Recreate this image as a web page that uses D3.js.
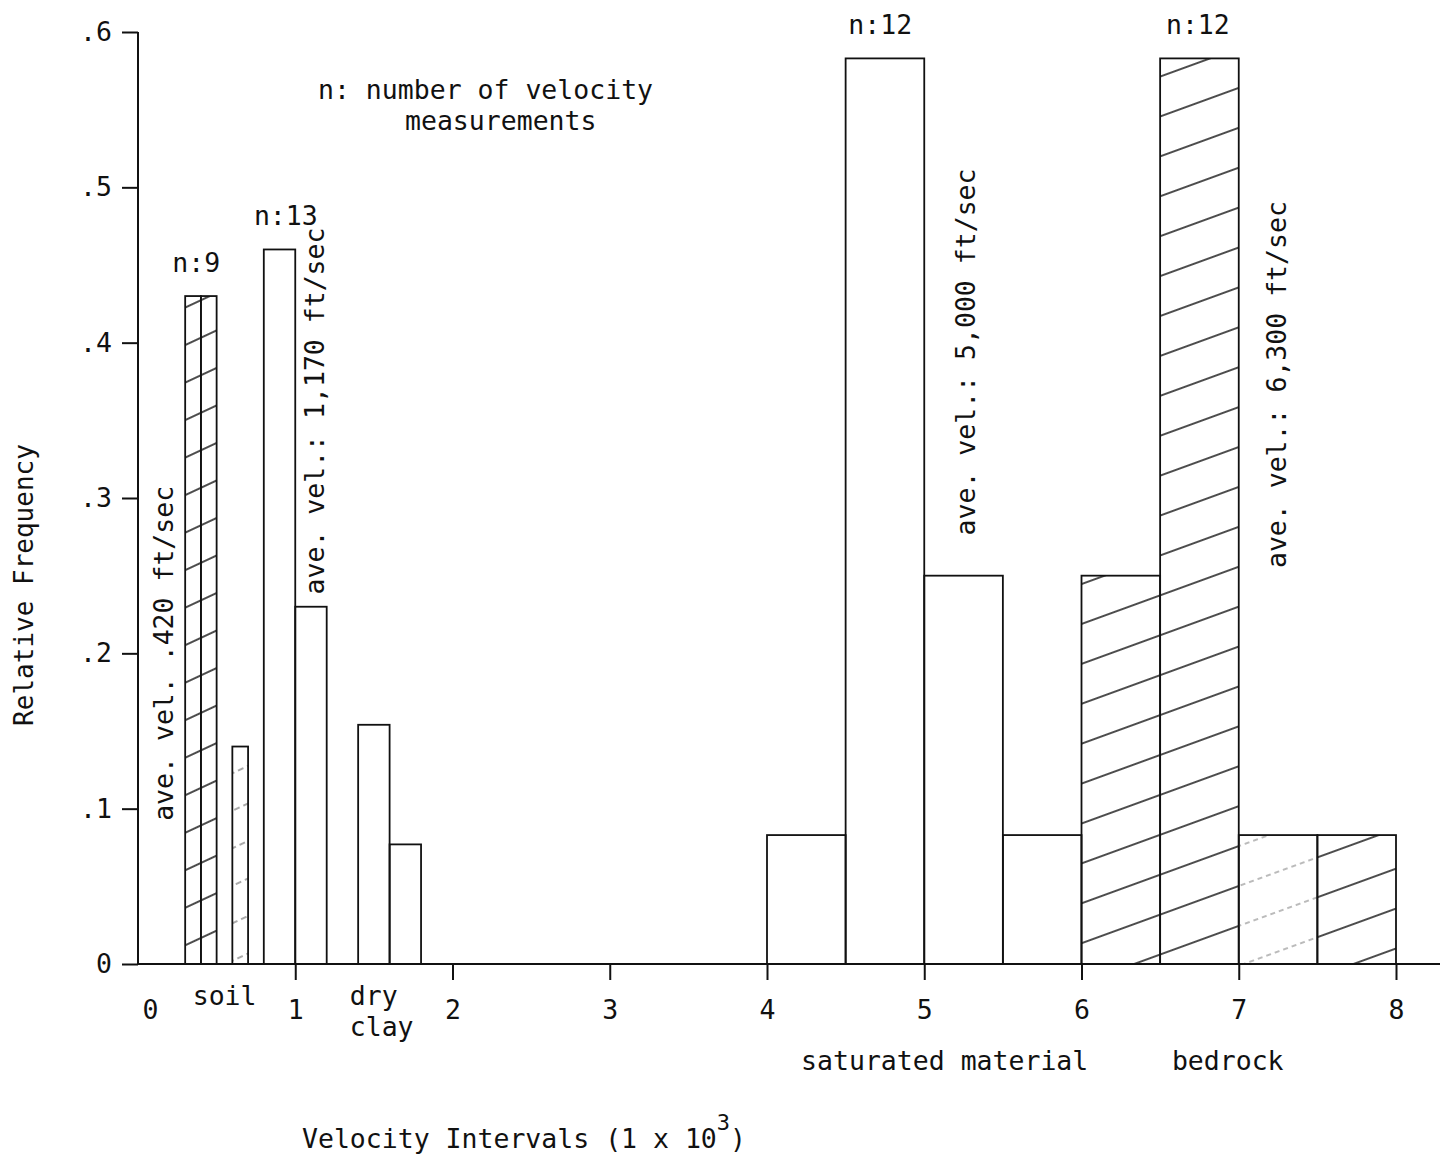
<!DOCTYPE html>
<html>
<head>
<meta charset="utf-8">
<script src="https://cdn.jsdelivr.net/npm/d3@7"></script>
<style>
  body { margin: 0; background: #fff; }
  svg text { font-family: "DejaVu Sans Mono", monospace; font-size: 26.5px; fill: #111; }
</style>
</head>
<body>
<div id="chart"></div>
<script>
'use strict';

// velocity bins (1 x 10^3 ft/sec) and relative frequency
var binLo = [0.3, 0.4, 0.6, 0.8, 1.0, 1.4, 1.6, 4.0, 4.5, 5.0, 5.5, 6.0, 6.5, 7.0, 7.5];
var binHi = [0.4, 0.5, 0.7, 1.0, 1.2, 1.6, 1.8, 4.5, 5.0, 5.5, 6.0, 6.5, 7.0, 7.5, 8.0];
var freq  = [0.43, 0.43, 0.14, 0.46, 0.23, 0.154, 0.077, 0.083, 0.583, 0.25, 0.083, 0.25, 0.583, 0.083, 0.083];
var hatch = ['soil', 'soil', 'soilLight', '', '', '', '', '', '', '', '', 'rock', 'rock', 'rockLight', 'rock'];

var xTicks = [0, 1, 2, 3, 4, 5, 6, 7, 8];
var yTicks = [0, 0.1, 0.2, 0.3, 0.4, 0.5, 0.6];
var yTickLabels = ['0', '.1', '.2', '.3', '.4', '.5', '.6'];

// n labels above groups: [x position in velocity units, value above, text]
var nLabels = [
  {v: 0.37, f: 0.43, t: 'n:9'},
  {v: 0.94, f: 0.46, t: 'n:13'},
  {v: 4.72, f: 0.583, t: 'n:12'},
  {v: 6.74, f: 0.583, t: 'n:12'}
];
// rotated average velocity notes
var aveLabels = [
  {v: 0.16, f: 0.2, t: 'ave. vel. .420 ft/sec'},
  {v: 1.12, f: 0.356, t: 'ave. vel.: 1,170 ft/sec'},
  {v: 5.26, f: 0.394, t: 'ave. vel.: 5,000 ft/sec'},
  {v: 7.24, f: 0.373, t: 'ave. vel.: 6,300 ft/sec'}
];
var groupNames = [
  {v: 0.5, lines: ['soil']},
  {v: 1.55, lines: ['dry', 'clay']}
];
var groupNames2 = [
  {v: 5.13, t: 'saturated material'},
  {v: 6.93, t: 'bedrock'}
];

var width = 1452, height = 1162;
var svg = d3.select('#chart').append('svg')
    .attr('width', width).attr('height', height);

var x = d3.scaleLinear().domain([0, 8]).range([138, 1396]);
var y = d3.scaleLinear().domain([0, 0.6]).range([964, 32]);

// hatch patterns, in user space so lines carry on from bar to bar
var defs = svg.append('defs');
function makeHatch(id, angle, gap, sw, col, dash) {
  var p = defs.append('pattern')
      .attr('id', id)
      .attr('patternUnits', 'userSpaceOnUse')
      .attr('width', 400).attr('height', gap)
      .attr('patternTransform', 'rotate(' + angle + ')');
  p.append('line')
      .attr('x1', 0).attr('x2', 400).attr('y1', gap / 2).attr('y2', gap / 2)
      .attr('stroke', col).attr('stroke-width', sw)
      .attr('stroke-dasharray', dash || null);
}
makeHatch('soil', -25, 34, 1.6, '#111');
makeHatch('soilLight', -25, 34, 1.1, '#555', '6 4');
makeHatch('rock', -20, 37.5, 1.3, '#111');
makeHatch('rockLight', -20, 37.5, 1, '#777', '5 4');

var bars = d3.range(freq.length);

svg.append('g').selectAll('rect')
  .data(bars)
  .join('rect')
    .attr('x', function(i) { return x(binLo[i]); })
    .attr('y', function(i) { return y(freq[i]); })
    .attr('width', function(i) { return x(binHi[i]) - x(binLo[i]); })
    .attr('height', function(i) { return y(0) - y(freq[i]); })
    .attr('fill', function(i) { return hatch[i] ? 'url(#' + hatch[i] + ')' : 'none'; })
    .attr('stroke', '#111')
    .attr('stroke-width', 1.8);

// axes
var yAxis = d3.axisLeft(y).tickValues(yTicks).tickSize(16).tickPadding(10)
    .tickFormat(function(d, i) { return yTickLabels[i]; });
var gy = svg.append('g').attr('transform', 'translate(138,0)').call(yAxis);
gy.select('.domain').attr('d', 'M0,' + y(0.6) + 'V' + y(0)).attr('stroke-width', 2).attr('stroke', '#111');
gy.selectAll('.tick line').attr('stroke-width', 2).attr('stroke', '#111');
gy.selectAll('.tick text').attr('font-size', null).attr('font-family', null).attr('fill', '#111');

var xAxis = d3.axisBottom(x).tickValues(xTicks).tickSize(16).tickPadding(20).tickFormat(d3.format('d'));
var gx = svg.append('g').attr('transform', 'translate(0,964)').call(xAxis);
gx.select('.domain').attr('d', 'M138,0H1440').attr('stroke-width', 2).attr('stroke', '#111');
gx.selectAll('.tick line').attr('stroke-width', 2).attr('stroke', '#111')
    .attr('display', function(d) { return d === 0 ? 'none' : null; });
gx.selectAll('.tick text').attr('font-size', null).attr('font-family', null).attr('fill', '#111')
    .attr('dx', function(d) { return d === 0 ? 12 : 0; });

// n labels
svg.append('g').selectAll('text')
  .data(nLabels)
  .join('text')
    .attr('x', function(d) { return x(d.v); })
    .attr('y', function(d) { return y(d.f) - 24; })
    .attr('text-anchor', 'middle')
    .text(function(d) { return d.t; });

// rotated notes
svg.append('g').selectAll('text')
  .data(aveLabels)
  .join('text')
    .attr('transform', function(d) { return 'translate(' + x(d.v) + ',' + y(d.f) + ') rotate(-90)'; })
    .attr('text-anchor', 'middle')
    .attr('dominant-baseline', 'central')
    .text(function(d) { return d.t; });

// legend note
svg.append('text').attr('x', 318).attr('y', 99).text('n: number of velocity');
svg.append('text').attr('x', 405).attr('y', 130).text('measurements');

// group names under the axis
groupNames.forEach(function(g) {
  g.lines.forEach(function(l, k) {
    svg.append('text')
        .attr('x', x(g.v))
        .attr('y', 1005 + k * 31)
        .attr('text-anchor', g.lines.length > 1 ? 'start' : 'middle')
        .attr('dx', g.lines.length > 1 ? -32 : 8)
        .text(l);
  });
});
svg.append('g').selectAll('text')
  .data(groupNames2)
  .join('text')
    .attr('x', function(d) { return x(d.v); })
    .attr('y', 1070)
    .attr('text-anchor', 'middle')
    .text(function(d) { return d.t; });

// axis titles
svg.append('text')
    .attr('transform', 'translate(24,585) rotate(-90)')
    .attr('text-anchor', 'middle')
    .attr('dominant-baseline', 'central')
    .style('font-size', '26px')
    .text('Relative Frequency');

var xt = svg.append('text').attr('x', 302).attr('y', 1148);
xt.append('tspan').text('Velocity Intervals (1 x 10');
xt.append('tspan').attr('dy', -18).style('font-size', '22px').text('3');
xt.append('tspan').attr('dy', 18).text(')');
</script>
</body>
</html>
